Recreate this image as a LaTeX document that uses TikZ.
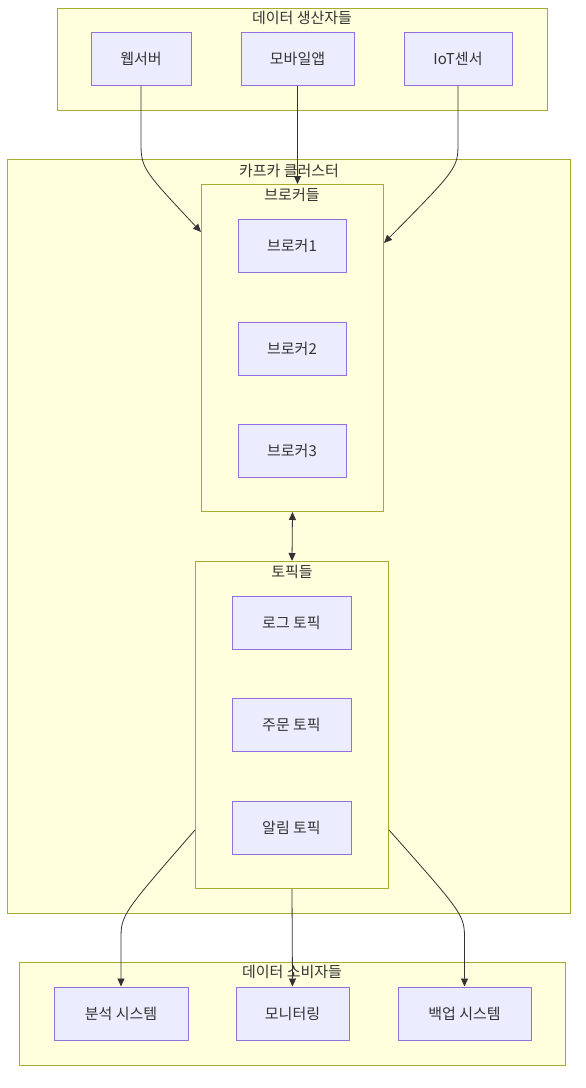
\documentclass[tikz,border=0pt]{standalone}
\usepackage{fontspec}
\setmainfont{Noto Sans CJK KR}
\usetikzlibrary{arrows.meta}
\definecolor{nodefill}{HTML}{ECECFF}
\definecolor{nodeline}{HTML}{9370DB}
\definecolor{grpfill}{HTML}{FFFFDE}
\definecolor{grpline}{HTML}{AAAA33}
\definecolor{txt}{HTML}{333333}
\tikzset{
  nodebox/.style={draw=nodeline, fill=nodefill, line width=1pt, text=txt, font=\fontsize{15}{18}\selectfont, inner sep=0pt},
  grpbox/.style={draw=grpline, fill=grpfill, line width=1pt, inner sep=0pt},
  grptitle/.style={text=txt, font=\fontsize{15}{18}\selectfont, inner sep=0pt},
  conn/.style={draw=txt, line width=0.8pt, -{Triangle[length=8pt,width=7pt]}},
  biconn/.style={draw=txt, line width=0.8pt, {Triangle[length=8pt,width=7pt]}-{Triangle[length=8pt,width=7pt]}}
}
\begin{document}
\begin{tikzpicture}[x=1pt,y=-1pt]
\useasboundingbox (0,0) rectangle (586,1088);
% groups
\node[grpbox, minimum width=490pt, minimum height=102pt, anchor=north west] (prod) at (57,8) {};
\node[grptitle] (prodt) at (302,18) {데이터 생산자들};
\node[grpbox, minimum width=563pt, minimum height=754pt, anchor=north west] (kafka) at (7,159) {};
\node[grptitle] (kafkat) at (289,171) {카프카 클러스터};
\node[grpbox, minimum width=182pt, minimum height=327pt, anchor=north west] (brokers) at (201,184) {};
\node[grptitle] (brokerst) at (292,195) {브로커들};
\node[grpbox, minimum width=193pt, minimum height=327pt, anchor=north west] (topics) at (195,561) {};
\node[grptitle] (topicst) at (292,572) {토픽들};
\node[grpbox, minimum width=546pt, minimum height=103pt, anchor=north west] (cons) at (19,962) {};
\node[grptitle] (const) at (292,972) {데이터 소비자들};
% producer nodes
\node[nodebox, minimum width=100pt, minimum height=53pt] (web) at (141,58.5) {웹서버};
\node[nodebox, minimum width=113pt, minimum height=53pt] (mob) at (297.5,58.5) {모바일앱};
\node[nodebox, minimum width=108pt, minimum height=53pt] (iot) at (458,58.5) {IoT센서};
% brokers
\node[nodebox, minimum width=108pt, minimum height=53pt] (b1) at (292,245.5) {브로커1};
\node[nodebox, minimum width=108pt, minimum height=53pt] (b2) at (292,348.5) {브로커2};
\node[nodebox, minimum width=108pt, minimum height=53pt] (b3) at (292,450.5) {브로커3};
% topics
\node[nodebox, minimum width=119pt, minimum height=53pt] (t1) at (291.5,622.5) {로그 토픽};
\node[nodebox, minimum width=119pt, minimum height=53pt] (t2) at (291.5,724.5) {주문 토픽};
\node[nodebox, minimum width=119pt, minimum height=53pt] (t3) at (291.5,827.5) {알림 토픽};
% consumers
\node[nodebox, minimum width=134pt, minimum height=53pt] (c1) at (121,1013.5) {분석 시스템};
\node[nodebox, minimum width=113pt, minimum height=53pt] (c2) at (292.5,1013.5) {모니터링};
\node[nodebox, minimum width=133pt, minimum height=53pt] (c3) at (464.5,1013.5) {백업 시스템};
% connectors
\coordinate (wbend) at (141,140);
\coordinate (ibend) at (458,142);
\draw[conn] (web.south) -- (wbend) .. controls (141,168) .. ([yshift=-48pt]brokers.north west);
\draw[conn] (mob.south) -- (mob.south |- brokers.north);
\draw[conn] (iot.south) -- (ibend) .. controls (458,168) .. ([yshift=-59pt]brokers.north east);
\draw[biconn] (brokers.south) -- (topics.north);
\coordinate (lbend) at (121,940);
\coordinate (rbend) at (464.5,940);
\draw[conn] ([yshift=-269pt]topics.north west) .. controls (121,915) .. (lbend) -- (c1.north);
\draw[conn] (topics.south) -- (c2.north);
\draw[conn] ([yshift=-269pt]topics.north east) .. controls (464.5,915) .. (rbend) -- (c3.north);
\end{tikzpicture}
\end{document}
